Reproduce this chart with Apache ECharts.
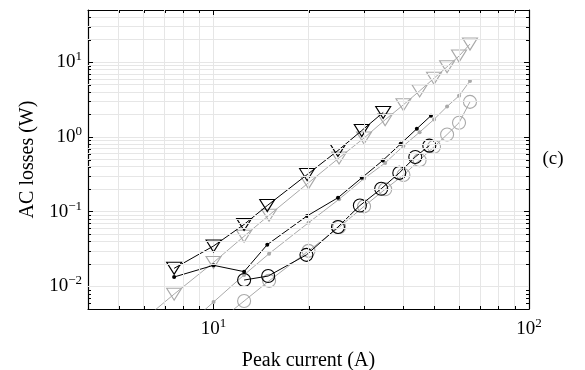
<!DOCTYPE html>
<html>
<head>
<meta charset="utf-8">
<script src="https://cdn.jsdelivr.net/npm/echarts@6/dist/echarts.min.js"></script>
<style>
  html, body { margin: 0; padding: 0; background: #fff; }
  #chart { width: 585px; height: 370px; }
</style>
</head>
<body>
<div id="chart"></div>
<script>
// gray series (grid of currents)
var grayTriX = [5, 7.5, 10, 12.5, 15, 20, 25, 30, 35, 40, 45, 50, 55, 60, 65];
var grayTriY = [0.0019, 0.0079, 0.021, 0.047, 0.090, 0.244, 0.525, 0.97, 1.70, 2.70, 4.14, 6.1, 8.7, 12.1, 17.5];
var grayDotX = [7.5, 10, 12.5, 15, 20, 25, 30, 35, 40, 45, 50, 55, 60, 65];
var grayDotY = [0.0021, 0.0062, 0.0143, 0.0275, 0.0713, 0.147, 0.278, 0.45, 0.76, 1.16, 1.72, 2.56, 3.55, 5.63];
var grayCircX = [10, 12.5, 15, 20, 25, 30, 35, 40, 45, 50, 55, 60, 65];
var grayCircY = [0.003, 0.0064, 0.0119, 0.030, 0.062, 0.118, 0.20, 0.31, 0.49, 0.74, 1.08, 1.55, 2.95];

// black series (measured)
var blackTriX = [7.5, 10, 12.5, 14.8, 19.8, 24.8, 29.5, 34.5];
var blackTriY = [0.0175, 0.0348, 0.0677, 0.121, 0.314, 0.66, 1.22, 2.13];
var blackDotX = [7.5, 10, 12.5, 14.8, 19.8, 24.8, 29.5, 34.4, 39.2, 44.1, 48.9];
var blackDotY = [0.0134, 0.0192, 0.0158, 0.0363, 0.088, 0.154, 0.284, 0.486, 0.81, 1.29, 1.93];
var blackCircX = [12.5, 14.9, 19.7, 24.8, 29.1, 34.0, 38.8, 43.6, 48.3];
var blackCircY = [0.0122, 0.0138, 0.0265, 0.0625, 0.121, 0.203, 0.331, 0.541, 0.766];

// axes
var xMin = 4, xMax = 100;
var yMin = 0.005, yMax = 50;
var minorX = [5, 6, 7, 8, 9, 20, 30, 40, 50, 60, 70, 80, 90];
var minorY = [0.006, 0.007, 0.008, 0.009, 0.02, 0.03, 0.04, 0.05, 0.06, 0.07, 0.08, 0.09,
              0.2, 0.3, 0.4, 0.5, 0.6, 0.7, 0.8, 0.9, 2, 3, 4, 5, 6, 7, 8, 9, 20, 30, 40];

var FONT = 'Liberation Serif';
var GRAY = '#a9a9a9';
var GRID_COLOR = '#e6e6e6';

var pairs = function(xs, ys){
    return xs.map(function(x, i){ return [x, ys[i]]; });
};

// 10^n with superscript exponent, blank for other ticks
var powLabel = function(value){
    var l = Math.log10(value);
    var e = Math.round(l);
    if (Math.abs(l - e) > 1e-6) return '';
    return '{b|10}{s|' + (e < 0 ? '\u2212' + (-e) : e) + '}';
};
var labelRich = {
    b: { fontFamily: FONT, fontSize: 19, color: '#000', lineHeight: 24 },
    s: { fontFamily: FONT, fontSize: 13, color: '#000', lineHeight: 13, verticalAlign: 'top' }
};

var makeAxis = function(isX, pos, showLabel){
    return {
        type: 'log',
        logBase: 10,
        position: pos,
        min: isX ? xMin : yMin,
        max: isX ? xMax : yMax,
        axisLine: { show: true, onZero: false, lineStyle: { color: '#000', width: 1.2 } },
        axisTick: { show: true, inside: true, length: 5, lineStyle: { color: '#000' } },
        axisLabel: showLabel ? {
            show: true,
            margin: isX ? 8 : 6,
            formatter: powLabel,
            rich: labelRich,
            showMinLabel: false,
            showMaxLabel: true
        } : { show: false },
        splitLine: { show: showLabel, lineStyle: { color: GRID_COLOR, width: 1 } },
        minorTick: { show: false },
        nameLocation: 'middle',
        nameTextStyle: { fontFamily: FONT, fontSize: 20, color: '#000' }
    };
};

var xBottom = makeAxis(true, 'bottom', true);
xBottom.name = 'Peak current (A)';
xBottom.nameGap = 42;
var yLeft = makeAxis(false, 'left', true);
yLeft.name = 'AC losses (W)';
yLeft.nameGap = 50;

var lineSeries = function(name, xs, ys, color, symbol, size, filled, z){
    return {
        name: name,
        type: 'line',
        data: pairs(xs, ys),
        symbol: symbol,
        symbolSize: size,
        symbolRotate: symbol === 'triangle' ? 180 : 0,
        showAllSymbol: true,
        clip: true,
        z: z,
        lineStyle: { color: color, width: 1 },
        itemStyle: {
            color: filled ? color : 'rgba(255,255,255,0)',
            borderColor: color,
            borderWidth: filled ? 0 : 1.1
        },
        emphasis: { disabled: true },
        animation: false
    };
};

var gridLines = [];
minorX.forEach(function(v){ gridLines.push({ xAxis: v }); });
minorY.forEach(function(v){ gridLines.push({ yAxis: v }); });

var option = {
    animation: false,
    backgroundColor: '#fff',
    grid: { left: 88, right: 56, top: 10, bottom: 61, outerBoundsMode: 'none', containLabel: false },
    xAxis: [xBottom, makeAxis(true, 'top', false)],
    yAxis: [yLeft, makeAxis(false, 'right', false)],
    series: [
        {
            name: 'minor grid',
            type: 'line',
            data: [],
            z: 1,
            markLine: {
                silent: true,
                symbol: 'none',
                label: { show: false },
                lineStyle: { color: GRID_COLOR, width: 1, type: 'solid' },
                emphasis: { disabled: true },
                animation: false,
                data: gridLines
            }
        },
        lineSeries('gray tri', grayTriX, grayTriY, GRAY, 'triangle', [15, 12], false, 3),
        lineSeries('gray dot', grayDotX, grayDotY, GRAY, 'circle', 4, true, 3),
        lineSeries('gray circ', grayCircX, grayCircY, GRAY, 'circle', 13, false, 3),
        lineSeries('black tri', blackTriX, blackTriY, '#000', 'triangle', [15, 12], false, 4),
        lineSeries('black dot', blackDotX, blackDotY, '#000', 'circle', 4, true, 4),
        lineSeries('black circ', blackCircX, blackCircY, '#000', 'circle', 13, false, 4)
    ]
};

var chart = echarts.init(document.getElementById('chart'), null, { renderer: 'canvas' });
chart.setOption(option);

// minor tick marks on all four sides, placed through the axes
var addMinorTicks = function(){
    var els = [];
    var left = chart.convertToPixel({ xAxisIndex: 0 }, xMin);
    var right = chart.convertToPixel({ xAxisIndex: 0 }, xMax);
    var bottom = chart.convertToPixel({ yAxisIndex: 0 }, yMin);
    var top = chart.convertToPixel({ yAxisIndex: 0 }, yMax);
    var st = { stroke: '#000', lineWidth: 1 };
    minorX.forEach(function(v){
        var px = Math.round(chart.convertToPixel({ xAxisIndex: 0 }, v)) + 0.5;
        els.push({ type: 'line', z: 50, silent: true, shape: { x1: px, y1: bottom, x2: px, y2: bottom - 3 }, style: st });
        els.push({ type: 'line', z: 50, silent: true, shape: { x1: px, y1: top, x2: px, y2: top + 3 }, style: st });
    });
    minorY.forEach(function(v){
        var py = Math.round(chart.convertToPixel({ yAxisIndex: 0 }, v)) + 0.5;
        els.push({ type: 'line', z: 50, silent: true, shape: { x1: left, y1: py, x2: left + 3, y2: py }, style: st });
        els.push({ type: 'line', z: 50, silent: true, shape: { x1: right, y1: py, x2: right - 3, y2: py }, style: st });
    });
    els.push({
        type: 'text', z: 50, silent: true,
        x: right + 24, y: (top + bottom) / 2,
        style: { text: '(c)', font: '19px ' + FONT, fill: '#000', align: 'center', verticalAlign: 'middle' }
    });
    chart.setOption({ graphic: els });
};
addMinorTicks();
</script>
</body>
</html>
